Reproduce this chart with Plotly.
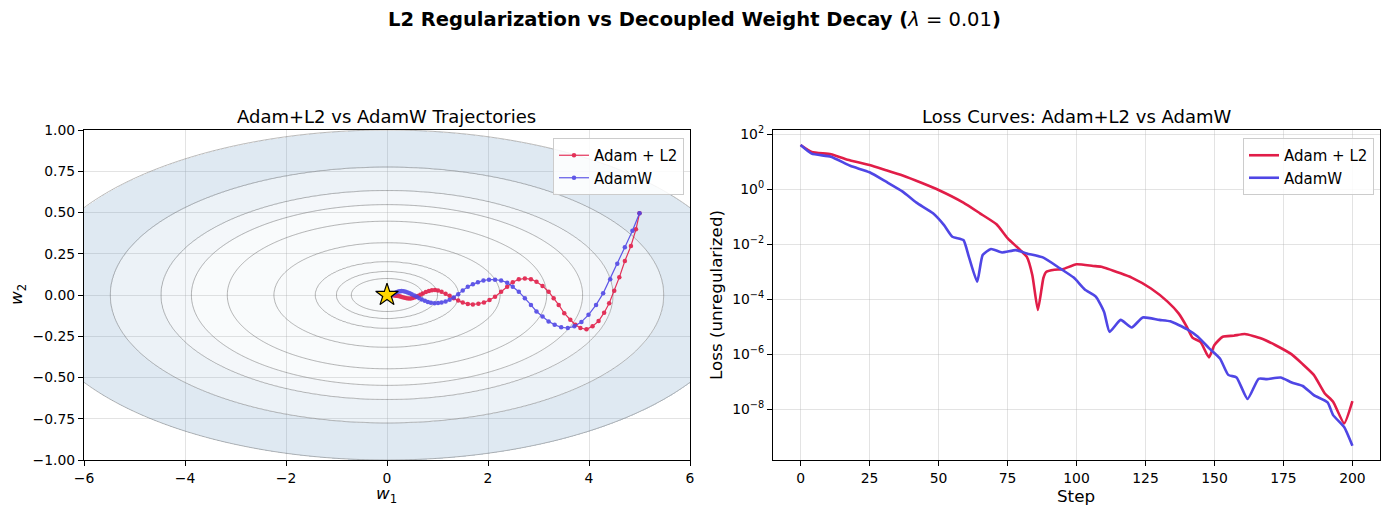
import numpy as np
import plotly.graph_objects as go

# ---------------- data ----------------
# Loss landscape: f(w) = 0.5*(w1^2 + 50*w2^2), drawn at these levels
curvature = [1.0, 50.0]
contour_levels = [0.25, 0.5, 1.0, 2.5, 5.0, 7.5, 10.0, 15.0, 25.0]

# Trajectories (start -> optimum)
l2_w1 = [5.00, 4.93, 4.83, 4.71, 4.60, 4.50, 4.40, 4.30, 4.19, 4.07,
         3.95, 3.83, 3.73, 3.63, 3.51, 3.40, 3.30, 3.20, 3.08, 2.96,
         2.85, 2.73, 2.61, 2.49, 2.38, 2.26, 2.14, 2.03, 1.92, 1.81,
         1.70, 1.60, 1.50, 1.41, 1.32, 1.24, 1.16, 1.08, 1.01, 0.95,
         0.89, 0.83, 0.77, 0.71, 0.66, 0.61, 0.56, 0.51, 0.47, 0.43,
         0.39, 0.35, 0.31, 0.28, 0.25, 0.22, 0.19, 0.17, 0.15, 0.13,
         0.11, 0.09, 0.07]
l2_w2 = [0.495, 0.398, 0.297, 0.206, 0.107, 0.026, -0.05, -0.107, -0.158, -0.19,
         -0.208, -0.20, -0.18, -0.15, -0.11, -0.06, -0.02, 0.02, 0.055, 0.08,
         0.096, 0.10, 0.095, 0.077, 0.05, 0.02, -0.01, -0.03, -0.045, -0.053,
         -0.057, -0.054, -0.046, -0.034, -0.02, -0.005, 0.008, 0.02, 0.027, 0.030,
         0.029, 0.025, 0.018, 0.009, 0.001, -0.006, -0.013, -0.018, -0.021, -0.021,
         -0.019, -0.016, -0.013, -0.010, -0.008, -0.006, -0.004, -0.003, -0.002, -0.001,
         0.0, 0.0, 0.0]

aw_w1 = [5.00, 4.86, 4.71, 4.56, 4.42, 4.28, 4.14, 3.99, 3.85, 3.71,
         3.58, 3.45, 3.32, 3.20, 3.08, 2.96, 2.85, 2.73, 2.61, 2.49,
         2.38, 2.26, 2.14, 2.02, 1.91, 1.80, 1.70, 1.60, 1.50, 1.41,
         1.32, 1.24, 1.16, 1.08, 1.01, 0.94, 0.87, 0.81, 0.75, 0.69,
         0.64, 0.59, 0.54, 0.49, 0.45, 0.41, 0.37, 0.33, 0.29, 0.26,
         0.23, 0.20, 0.17, 0.15, 0.13, 0.11, 0.09, 0.07]
aw_w2 = [0.495, 0.39, 0.29, 0.19, 0.095, 0.01, -0.06, -0.12, -0.163, -0.19,
         -0.20, -0.196, -0.18, -0.16, -0.13, -0.10, -0.06, -0.02, 0.02, 0.05,
         0.075, 0.088, 0.093, 0.093, 0.088, 0.078, 0.065, 0.05, 0.028, 0.005,
         -0.015, -0.029, -0.039, -0.045, -0.049, -0.050, -0.047, -0.042, -0.035, -0.027,
         -0.019, -0.011, -0.003, 0.004, 0.010, 0.015, 0.019, 0.022, 0.024, 0.023,
         0.021, 0.018, 0.014, 0.011, 0.008, 0.005, 0.003, 0.001]

optimum = [0.0, 0.0]

# Loss curves (unregularized loss)
l2_steps = [0, 4, 11, 17, 25, 31, 37, 44, 50, 59, 65, 71, 75, 79, 82, 84, 86, 88, 89, 92,
            95, 100, 106, 109, 116, 120, 127, 133, 137, 140, 142, 145, 148, 150, 153, 157,
            161, 167, 172, 178, 182, 186, 190, 193, 197, 200]
l2_loss = [4.1e1, 2.3e1, 1.9e1, 1.2e1, 7.7e0, 5.0e0, 3.2e0, 1.7e0, 9.5e-1, 3.3e-1,
           1.35e-1, 5.4e-2, 1.7e-2, 7.1e-3, 3.5e-3, 7.6e-4, 4.1e-5, 6.0e-4, 1.0e-3, 1.2e-3,
           1.25e-3, 1.9e-3, 1.65e-3, 1.55e-3, 8.9e-4, 6.2e-4, 2.5e-4, 8.3e-5, 3.1e-5, 1.0e-5,
           4.1e-6, 2.8e-6, 7.8e-7, 2.2e-6, 4.4e-6, 4.8e-6,
           5.5e-6, 3.8e-6, 2.2e-6, 1.0e-6, 4.4e-7, 1.8e-7, 3.8e-8, 1.9e-8, 3.1e-9, 2.0e-8]

aw_steps = [0, 4, 11, 18, 25, 31, 37, 42, 48, 52, 55, 59, 61, 64, 66, 69, 73, 78, 82, 88,
            94, 99, 103, 107, 110, 112, 116, 120, 124, 130, 134, 140, 144, 148, 152, 155,
            158, 162, 166, 169, 174, 178, 182, 186, 191, 193, 197, 200]
aw_loss = [4.1e1, 2.0e1, 1.55e1, 7.2e0, 4.2e0, 1.9e0, 8.3e-1, 3.3e-1, 1.35e-1, 5.0e-2,
           1.9e-2, 1.45e-2, 3.5e-3, 4.4e-4, 4.1e-3, 6.8e-3, 5.1e-3, 6.2e-3, 4.7e-3, 3.3e-3,
           1.35e-3, 6.2e-4, 2.3e-4, 1.26e-4, 3.5e-5, 6.6e-6, 1.8e-5, 9.5e-6, 2.2e-5, 1.8e-5,
           1.6e-5, 8.3e-6, 4.4e-6, 1.7e-6, 7.1e-7, 1.8e-7,
           1.45e-7, 2.4e-8, 1.3e-7, 1.26e-7, 1.45e-7, 9.5e-8, 7.1e-8, 3.3e-8, 1.8e-8, 6.2e-9, 2.3e-9, 4.8e-10]

loss_ticks = [1e2, 1e0, 1e-2, 1e-4, 1e-6, 1e-8]
loss_tick_text = ["10<sup>2</sup>", "10<sup>0</sup>", "10<sup>\u22122</sup>", "10<sup>\u22124</sup>",
                  "10<sup>\u22126</sup>", "10<sup>\u22128</sup>"]

RED = "#e11d48"
BLUE = "#4f46e5"
FONT = "DejaVu Sans"

# ---------------- figure ----------------
fig = go.Figure()

# Filled bands of the landscape (transparent so the grid shows through)
g1 = np.linspace(-6, 6, 607)
g2 = np.linspace(-1, 1, 331)
W1, W2 = np.meshgrid(g1, g2)
F = 0.5 * (curvature[0] * W1 ** 2 + curvature[1] * W2 ** 2)
lev = np.array(contour_levels)
band = np.digitize(F, lev[-4:]).astype(float) - 1.0   # -1: f<7.5 ... 3: f>=25
band = np.where(band < 0, 0.0, band + 1.0)           # 0: f<7.5, 1: 7.5-10, 2: 10-15, 3: 15-25, 4: outside
band_z = [[None if v >= 4 else v for v in row] for row in band.tolist()]

c0 = "rgba(95,145,190,0.04)"
c1 = "rgba(95,145,190,0.07)"
c2 = "rgba(95,145,190,0.12)"
c3 = "rgba(95,145,190,0.20)"
hscale = [[0, c0], [1 / 6, c0], [1 / 6, c1], [0.5, c1], [0.5, c2], [5 / 6, c2], [5 / 6, c3], [1, c3]]
fig.add_trace(go.Heatmap(
    x=g1, y=g2, z=band_z, zmin=0, zmax=3, colorscale=hscale, showscale=False,
    hoverinfo="skip", xaxis="x", yaxis="y",
))

# Contour lines
h1 = np.linspace(-7.5, 7.5, 601)
h2 = np.linspace(-1.3, 1.3, 321)
H1, H2 = np.meshgrid(h1, h2)
FF = 0.5 * (curvature[0] * H1 ** 2 + curvature[1] * H2 ** 2)
idx = np.arange(len(lev), dtype=float)
Z = np.interp(FF, lev, idx)
Z = np.where(FF > lev[-1], idx[-1] + (FF - lev[-1]) / 10.0, Z)
Z = np.where(FF < lev[0], FF / lev[0] - 1.0, Z)
fig.add_trace(go.Contour(
    x=h1, y=h2, z=Z, xaxis="x", yaxis="y",
    contours=dict(start=0, end=len(lev) - 1, size=1, coloring="none", showlines=True),
    line=dict(color="rgba(120,120,120,0.55)", width=1),
    showscale=False, hoverinfo="skip", showlegend=False,
))

fig.add_trace(go.Scatter(
    x=l2_w1, y=l2_w2, mode="lines+markers", name="Adam + L2",
    line=dict(color=RED, width=1.2), marker=dict(color=RED, size=4.5),
    opacity=0.9, xaxis="x", yaxis="y", legend="legend",
))
fig.add_trace(go.Scatter(
    x=aw_w1, y=aw_w2, mode="lines+markers", name="AdamW",
    line=dict(color=BLUE, width=1.2), marker=dict(color=BLUE, size=4.5),
    opacity=0.9, xaxis="x", yaxis="y", legend="legend",
))
fig.add_trace(go.Scatter(
    x=[optimum[0]], y=[optimum[1]], mode="markers", showlegend=False,
    marker=dict(symbol="star", size=17, color="#FFD700", line=dict(color="black", width=1.2)),
    xaxis="x", yaxis="y",
))

fig.add_trace(go.Scatter(
    x=l2_steps, y=l2_loss, mode="lines", name="Adam + L2",
    line=dict(color=RED, width=2.6, shape="spline", smoothing=0.5),
    xaxis="x2", yaxis="y2", legend="legend2",
))
fig.add_trace(go.Scatter(
    x=aw_steps, y=aw_loss, mode="lines", name="AdamW",
    line=dict(color=BLUE, width=2.6, shape="spline", smoothing=0.5),
    xaxis="x2", yaxis="y2", legend="legend2",
))

W, H = 1389, 515
def px(x):
    return x / W
def py(y):
    return 1 - y / H

axis_common = dict(
    showgrid=True, gridcolor="rgba(176,176,176,0.35)", gridwidth=1,
    showline=True, mirror=True, linecolor="black", linewidth=1.1,
    ticks="outside", ticklen=5, tickwidth=1.1, tickcolor="black",
    tickfont=dict(family=FONT, size=13.9, color="black"), zeroline=False,
    automargin=False,
)

fig.update_layout(
    width=W, height=H, margin=dict(l=0, r=0, t=0, b=0, autoexpand=False),
    paper_bgcolor="white", plot_bgcolor="white",
    font=dict(family=FONT, color="black"),
    xaxis=dict(domain=[px(84), px(690)], range=[-6, 6], tickvals=[-6, -4, -2, 0, 2, 4, 6],
               anchor="y", **axis_common),
    yaxis=dict(domain=[py(460), py(130)], range=[-1, 1],
               tickvals=[-1, -0.75, -0.5, -0.25, 0, 0.25, 0.5, 0.75, 1],
               tickformat=".2f", anchor="x", **axis_common),
    xaxis2=dict(domain=[px(773), px(1380)], range=[-10, 210],
                tickvals=[0, 25, 50, 75, 100, 125, 150, 175, 200], anchor="y2", **axis_common),
    yaxis2=dict(domain=[py(460), py(130)], type="log", range=[-9.84, 2.16],
                tickvals=loss_ticks, ticktext=loss_tick_text, anchor="x2", **axis_common),
    legend=dict(x=px(684), y=py(138), xanchor="right", yanchor="top",
                bgcolor="rgba(255,255,255,0.85)", bordercolor="#cccccc", borderwidth=1,
                font=dict(family=FONT, size=15, color="black")),
    legend2=dict(x=px(1374), y=py(138), xanchor="right", yanchor="top",
                 bgcolor="rgba(255,255,255,0.85)", bordercolor="#cccccc", borderwidth=1,
                 font=dict(family=FONT, size=15, color="black")),
    showlegend=True,
)

ann = [
    dict(text="<b>L2 Regularization vs Decoupled Weight Decay (</b><i>λ</i> = 0.01<b>)</b>",
         x=0.5, y=py(20), font=dict(size=19.5)),
    dict(text="Adam+L2 vs AdamW Trajectories", x=px(387), y=py(116), font=dict(size=18)),
    dict(text="Loss Curves: Adam+L2 vs AdamW", x=px(1076), y=py(116), font=dict(size=18)),
    dict(text="<i>w</i><sub>1</sub>", x=px(387), y=py(494), font=dict(size=16.7)),
    dict(text="Step", x=px(1076), y=py(496), font=dict(size=16.7)),
    dict(text="<i>w</i><sub>2</sub>", x=px(17), y=py(295), textangle=-90, font=dict(size=16.7)),
    dict(text="Loss (unregularized)", x=px(716), y=py(295), textangle=-90, font=dict(size=16.7)),
]
for a in ann:
    fig.add_annotation(xref="paper", yref="paper", showarrow=False,
                       xanchor="center", yanchor="middle",
                       font=dict(family=FONT, color="black", size=a["font"]["size"]),
                       text=a["text"], x=a["x"], y=a["y"], textangle=a.get("textangle", 0))

fig.write_html("out.html")
